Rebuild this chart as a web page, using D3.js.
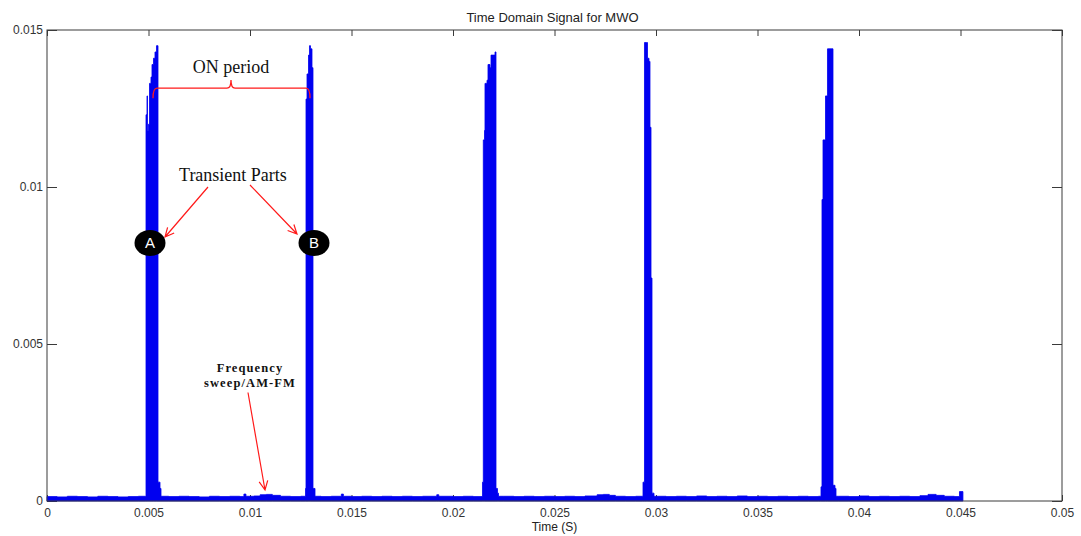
<!DOCTYPE html>
<html>
<head>
<meta charset="utf-8">
<script src="https://cdn.jsdelivr.net/npm/d3@7"></script>
<style>
  body { margin: 0; background: #fff; }
  svg { display: block; }
</style>
</head>
<body>
<div id="chart"></div>
<script>
const margin = { left: 47, right: 19, top: 30, bottom: 35 };
const size = { width: 1081, height: 536 };

const xTicks = [0, 0.005, 0.01, 0.015, 0.02, 0.025, 0.03, 0.035, 0.04, 0.045, 0.05];
const yTicks = [0, 0.005, 0.01, 0.015];
const xTickLabels = ['0', '0.005', '0.01', '0.015', '0.02', '0.025', '0.03', '0.035', '0.04', '0.045', '0.05'];
const yTickLabels = ['0', '0.005', '0.01', '0.015'];

// noise floor between the bursts [time, amplitude]
const floorSignal = [
  [0, 0.00014], [0.0005, 0.00013], [0.001, 0.00015], [0.0015, 0.00014], [0.002, 0.00013],
  [0.0025, 0.00015], [0.003, 0.00014], [0.0035, 0.00013], [0.004, 0.00014], [0.0045, 0.00015],
  [0.006, 0.00014], [0.0065, 0.00015], [0.007, 0.00014], [0.0075, 0.00013], [0.008, 0.00015],
  [0.0085, 0.00014], [0.009, 0.00015], [0.0095, 0.00014], [0.0097, 0.00022], [0.0098, 0.00015],
  [0.0102, 0.00016], [0.0105, 0.0002], [0.0108, 0.00021], [0.0111, 0.00018], [0.0115, 0.00015],
  [0.012, 0.00014], [0.0125, 0.00015],
  [0.0135, 0.00014], [0.014, 0.00015], [0.0145, 0.00022], [0.0146, 0.00015], [0.015, 0.00014],
  [0.0155, 0.00015], [0.016, 0.00014], [0.0165, 0.00015], [0.017, 0.00014], [0.0175, 0.00015],
  [0.018, 0.00014], [0.0185, 0.00015], [0.0192, 0.0002], [0.0193, 0.00015], [0.02, 0.00014],
  [0.0205, 0.00015], [0.021, 0.00014],
  [0.0225, 0.00015], [0.023, 0.00014], [0.0235, 0.00015], [0.024, 0.00014], [0.0245, 0.00015],
  [0.025, 0.00014], [0.0255, 0.00015], [0.026, 0.00014], [0.0265, 0.00016], [0.0271, 0.0002],
  [0.0274, 0.00021], [0.0277, 0.00018], [0.028, 0.00015], [0.0285, 0.00014], [0.029, 0.00015],
  [0.0301, 0.00015], [0.0305, 0.00014], [0.031, 0.00015], [0.0315, 0.00014], [0.032, 0.00016],
  [0.0325, 0.00014], [0.033, 0.00015], [0.0335, 0.00014], [0.034, 0.00016], [0.0345, 0.00014],
  [0.035, 0.00015], [0.0355, 0.00014], [0.036, 0.00015], [0.0365, 0.00014], [0.037, 0.00015],
  [0.0375, 0.00014], [0.038, 0.00015],
  [0.039, 0.00015], [0.0395, 0.00014], [0.04, 0.00016], [0.0405, 0.00014], [0.041, 0.00015],
  [0.0415, 0.00014], [0.042, 0.00015], [0.0425, 0.00014], [0.043, 0.00017], [0.0434, 0.00021],
  [0.0438, 0.00018], [0.0442, 0.00015], [0.0447, 0.00014], [0.04495, 0.0003], [0.04512, 0]
];

// the five ON bursts [time, amplitude]
const burstA = [
  [0.004852, 0.00014], [0.004877, 0.0123], [0.004926, 0.0129], [0.00495, 0.0118], [0.0050, 0.012],
  [0.00505, 0.0133], [0.005123, 0.0135], [0.005172, 0.0139], [0.005246, 0.0141], [0.00532, 0.0143],
  [0.005394, 0.0145], [0.005468, 0.0006], [0.005567, 0.0004], [0.005616, 0.00015]
];
const burstB = [
  [0.012709, 0.00015], [0.012734, 0.0004], [0.012759, 0.0128], [0.012808, 0.0136], [0.012882, 0.0142],
  [0.012931, 0.0145], [0.01298, 0.0144], [0.013054, 0.0138], [0.013103, 0.0004], [0.013202, 0.00015]
];
const burstC = [
  [0.021429, 0.00015], [0.021453, 0.0006], [0.021493, 0.0115], [0.021552, 0.0118], [0.021576, 0.0133],
  [0.021675, 0.0134], [0.021724, 0.0139], [0.021823, 0.0138], [0.021872, 0.0142], [0.02197, 0.0142],
  [0.022069, 0.0143], [0.022118, 0.0004], [0.022192, 0.00025], [0.022241, 0.00015]
];
const burstD = [
  [0.029335, 0.00015], [0.02936, 0.0006], [0.029433, 0.0146], [0.029532, 0.0146],
  [0.029582, 0.0141], [0.029655, 0.014], [0.029704, 0.0119], [0.029754, 0.0071],
  [0.029803, 0.00025], [0.029901, 0.00015]
];
const burstE = [
  [0.038103, 0.00015], [0.038128, 0.00045], [0.038177, 0.0096], [0.038227, 0.0115],
  [0.03835, 0.0129], [0.038448, 0.0144], [0.038719, 0.0005], [0.038818, 0.0004], [0.038867, 0.00015]
];

const bursts = [burstA, burstB, burstC, burstD, burstE];

// merge floor + bursts into one trace
const signal = floorSignal
  .filter(([t]) => !bursts.some(b => t >= b[0][0] && t <= b[b.length - 1][0]))
  .concat(...bursts)
  .sort((a, b) => a[0] - b[0]);

const svg = d3.select('#chart').append('svg')
  .attr('width', size.width)
  .attr('height', size.height);

const xScale = d3.scaleLinear()
  .domain([0, 0.05])
  .range([margin.left, size.width - margin.right]);

const yScale = d3.scaleLinear()
  .domain([0, 0.015])
  .range([size.height - margin.bottom, margin.top]);

const plotW = size.width - margin.left - margin.right;
const plotH = size.height - margin.top - margin.bottom;
const axisColor = '#3a3a3a';
const fontSans = 'Liberation Sans, Arial, sans-serif';
const fontSerif = 'Liberation Serif, Times New Roman, serif';

// inward ticks on all four sides (drawn under the trace)
svg.append('g')
  .attr('transform', `translate(0, ${size.height - margin.bottom})`)
  .call(d3.axisBottom(xScale).tickValues(xTicks).tickSize(-6).tickSizeOuter(0).tickFormat((d, i) => xTickLabels[i]))
  .call(g => g.select('.domain').remove())
  .call(g => g.selectAll('line').attr('stroke', axisColor))
  .call(g => g.selectAll('text').attr('y', 7).attr('dy', '0.71em')
    .attr('fill', '#333').style('font', `12px ${fontSans}`));

svg.append('g')
  .attr('transform', `translate(0, ${margin.top})`)
  .call(d3.axisTop(xScale).tickValues(xTicks).tickSize(-6).tickSizeOuter(0).tickFormat(''))
  .call(g => g.select('.domain').remove())
  .call(g => g.selectAll('line').attr('stroke', axisColor));

svg.append('g')
  .attr('transform', `translate(${margin.left}, 0)`)
  .call(d3.axisLeft(yScale).tickValues(yTicks).tickSize(-10).tickSizeOuter(0).tickFormat((d, i) => yTickLabels[i]))
  .call(g => g.select('.domain').remove())
  .call(g => g.selectAll('line').attr('stroke', axisColor))
  .call(g => g.selectAll('text').attr('x', -4)
    .attr('fill', '#333').style('font', `12px ${fontSans}`));

svg.append('g')
  .attr('transform', `translate(${size.width - margin.right}, 0)`)
  .call(d3.axisRight(yScale).tickValues(yTicks).tickSize(-10).tickSizeOuter(0).tickFormat(''))
  .call(g => g.select('.domain').remove())
  .call(g => g.selectAll('line').attr('stroke', axisColor));

// signal trace
const area = d3.area()
  .curve(d3.curveStepAfter)
  .x(d => xScale(d[0]))
  .y0(yScale(0))
  .y1(d => yScale(d[1]));

svg.append('path')
  .datum(signal)
  .attr('fill', '#0000f0')
  .attr('stroke', '#0000f0')
  .attr('stroke-width', 0.8)
  .attr('d', area);

// plot box
svg.append('rect')
  .attr('x', margin.left)
  .attr('y', margin.top)
  .attr('width', plotW)
  .attr('height', plotH)
  .attr('fill', 'none')
  .attr('stroke', axisColor)
  .attr('stroke-width', 1);

// title and axis label
svg.append('text')
  .attr('x', xScale(0.0249))
  .attr('y', 22)
  .attr('text-anchor', 'middle')
  .attr('fill', '#222')
  .style('font', `13px ${fontSans}`)
  .text('Time Domain Signal for MWO');

svg.append('text')
  .attr('x', xScale(0.025))
  .attr('y', 531)
  .attr('text-anchor', 'middle')
  .attr('fill', '#222')
  .style('font', `12px ${fontSans}`)
  .text('Time (S)');

// ---- annotations ----
const red = '#ff1a1a';

// ON period brace
const bx1 = xScale(0.005222), bx2 = xScale(0.012956), bxc = xScale(0.009064);
const byBar = yScale(0.01315), byTip = yScale(0.01283), byCusp = yScale(0.01341);
svg.append('path')
  .attr('d', `M${bx1},${byTip} Q${bx1},${byBar} ${bx1 + 4},${byBar} L${bxc - 4},${byBar} Q${bxc},${byBar} ${bxc},${byCusp}
    Q${bxc},${byBar} ${bxc + 4},${byBar} L${bx2 - 4},${byBar} Q${bx2},${byBar} ${bx2},${byTip}`)
  .attr('fill', 'none')
  .attr('stroke', red)
  .attr('stroke-width', 1.3);

svg.append('text')
  .attr('x', xScale(0.009064))
  .attr('y', yScale(0.01363))
  .attr('text-anchor', 'middle')
  .attr('fill', '#111')
  .style('font', `18px ${fontSerif}`)
  .text('ON period');

svg.append('text')
  .attr('x', xScale(0.00916))
  .attr('y', yScale(0.01019))
  .attr('text-anchor', 'middle')
  .attr('fill', '#111')
  .style('font', `18px ${fontSerif}`)
  .text('Transient Parts');

svg.append('text')
  .attr('x', xScale(0.01))
  .attr('y', yScale(0.004108))
  .attr('text-anchor', 'middle')
  .attr('fill', '#111')
  .style('font', `bold 12.5px ${fontSerif}`)
  .style('letter-spacing', '1.1px')
  .text('Frequency');

svg.append('text')
  .attr('x', xScale(0.01))
  .attr('y', yScale(0.003646))
  .attr('text-anchor', 'middle')
  .attr('fill', '#111')
  .style('font', `bold 12.5px ${fontSerif}`)
  .style('letter-spacing', '1.1px')
  .text('sweep/AM-FM');

// arrows with open heads
const arrows = [
  { from: [0.007931, 0.01], to: [0.005813, 0.008408] },
  { from: [0.01, 0.010064], to: [0.012315, 0.008503] },
  { from: [0.009901, 0.003455], to: [0.010739, 0.00035] }
];

arrows.forEach(a => {
  const x1 = xScale(a.from[0]), y1 = yScale(a.from[1]);
  const x2 = xScale(a.to[0]), y2 = yScale(a.to[1]);
  const ang = Math.atan2(y2 - y1, x2 - x1);
  const len = 10, spread = Math.PI / 7;
  const h1 = [x2 - len * Math.cos(ang - spread), y2 - len * Math.sin(ang - spread)];
  const h2 = [x2 - len * Math.cos(ang + spread), y2 - len * Math.sin(ang + spread)];
  svg.append('path')
    .attr('d', `M${x1},${y1} L${x2},${y2} M${h1[0]},${h1[1]} L${x2},${y2} L${h2[0]},${h2[1]}`)
    .attr('fill', 'none')
    .attr('stroke', red)
    .attr('stroke-width', 1.2);
});

// A / B markers
const markers = [
  { label: 'A', t: 0.005074, v: 0.008217 },
  { label: 'B', t: 0.013153, v: 0.008217 }
];

const mk = svg.selectAll('g.marker')
  .data(markers)
  .enter()
  .append('g')
  .attr('class', 'marker')
  .attr('transform', d => `translate(${xScale(d.t)}, ${yScale(d.v)})`);

mk.append('ellipse')
  .attr('rx', 15.5)
  .attr('ry', 13)
  .attr('fill', '#000');

mk.append('text')
  .attr('text-anchor', 'middle')
  .attr('dy', '0.36em')
  .attr('fill', '#fff')
  .style('font', `15px ${fontSans}`)
  .text(d => d.label);
</script>
</body>
</html>
